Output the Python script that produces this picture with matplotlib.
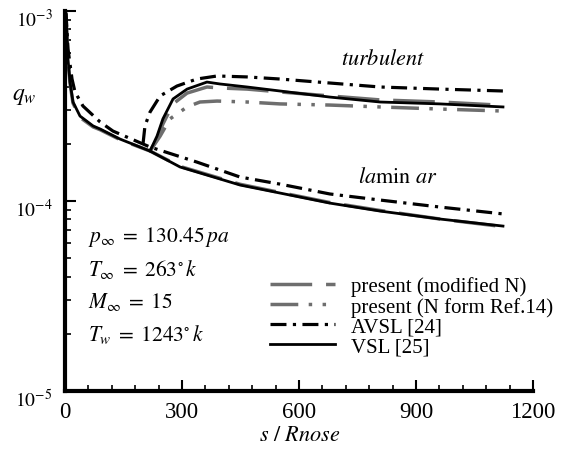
import numpy as np
import matplotlib
matplotlib.use("Agg")
import matplotlib.pyplot as plt
import matplotlib.transforms as mtransforms
from matplotlib.ticker import FixedLocator, LogLocator, NullFormatter

plt.rcParams['font.family'] = ['Liberation Serif', 'DejaVu Serif']
plt.rcParams['mathtext.fontset'] = 'stix'

# ---------------- data (s/Rnose, log10 q_w) ----------------
vsl_lam_s = [0, 2.6, 7.7, 12.8, 20.5, 38.5, 72, 90, 141, 218, 295, 449, 551, 679, 808, 962, 1123]
vsl_lam_logq = [-3.0, -3.016, -3.253, -3.374, -3.479, -3.553, -3.605, -3.621, -3.674, -3.737,
                -3.821, -3.916, -3.958, -4.011, -4.053, -4.095, -4.132]
vsl_turb_s = [218, 236, 251, 277, 313, 364, 397, 467, 551, 679, 808, 962, 1123]
vsl_turb_logq = [-3.737, -3.658, -3.568, -3.463, -3.411, -3.374, -3.384, -3.400, -3.421,
                 -3.453, -3.479, -3.489, -3.505]

pres_lam_s = [0, 2.6, 7.7, 12.8, 20.5, 38.5, 72, 90, 141, 218, 295, 449, 551, 679, 808, 962, 1123]
pres_lam_logq = [-3.0, -3.02, -3.26, -3.38, -3.485, -3.56, -3.61, -3.625, -3.677, -3.737,
                 -3.818, -3.912, -3.955, -4.008, -4.050, -4.095, -4.135]
pres_turb_s = [218, 236, 251, 277, 313, 364, 397, 467, 551, 679, 808, 962, 1110]
pres_turb_logq = [-3.737, -3.674, -3.595, -3.489, -3.432, -3.400, -3.405, -3.411, -3.426,
                  -3.447, -3.468, -3.479, -3.495]

ref14_turb_s = [218, 244, 269, 313, 346, 390, 467, 551, 679, 808, 962, 1115]
ref14_turb_logq = [-3.737, -3.658, -3.568, -3.505, -3.479, -3.474, -3.479, -3.489, -3.495,
                   -3.505, -3.516, -3.526]

avsl_lam_s = [0, 2.6, 7.7, 18, 25.6, 46, 90, 123, 200, 218, 338, 449, 551, 679, 808, 962, 1123]
avsl_lam_logq = [-3.0, -3.016, -3.2, -3.358, -3.426, -3.5, -3.584, -3.632, -3.7, -3.716,
                 -3.795, -3.874, -3.911, -3.963, -3.995, -4.032, -4.068]
avsl_turb_s = [200, 205, 218, 244, 287, 338, 390, 467, 551, 679, 808, 962, 1123]
avsl_turb_logq = [-3.7, -3.605, -3.532, -3.447, -3.395, -3.358, -3.342, -3.347, -3.358,
                  -3.379, -3.400, -3.411, -3.421]

x_ticks = [0, 300, 600, 900, 1200]
x_ticklabels = ['0', '300', '600', '900', '1200']
y_ticks = [1e-5, 1e-4, 1e-3]
y_ticklabels = [r'$10^{-5}$', r'$10^{-4}$', r'$10^{-3}$']
legend_labels = ['present (modified N)', 'present (N form Ref.14)', 'AVSL [24]', 'VSL [25]']
param_texts = [r'$p_{\infty}\;=\;130.45\,pa$', r'$T_{\infty}\;=\;263^{\circ}\,k$',
               r'$M_{\infty}\;=\;15$', r'$T_{w}\;=\;1243^{\circ}\,k$']

def q(v):
    return 10 ** np.asarray(v)

# ---------------- figure ----------------
fig = plt.figure(figsize=(5.61, 4.52), dpi=100)
ax = fig.add_axes([65 / 561, 1 - 392 / 452, 468 / 561, 380 / 452])

gray = '#6e6e6e'
lw_gray = 2.5
dash_pres = (12, 4)
dash_ref = (8, 3, 1, 3, 1, 3)
dash_avsl = (5, 2, 1, 2)

l1, = ax.plot(pres_lam_s, q(pres_lam_logq), color=gray, lw=lw_gray, dashes=dash_pres)
ax.plot(pres_turb_s, q(pres_turb_logq), color=gray, lw=lw_gray, dashes=dash_pres)
l2, = ax.plot(ref14_turb_s, q(ref14_turb_logq), color=gray, lw=lw_gray, dashes=dash_ref)
l4, = ax.plot(vsl_lam_s, q(vsl_lam_logq), color='black', lw=2.0)
ax.plot(vsl_turb_s, q(vsl_turb_logq), color='black', lw=2.0)
l3, = ax.plot(avsl_lam_s, q(avsl_lam_logq), color='black', lw=2.3, dashes=dash_avsl)
ax.plot(avsl_turb_s, q(avsl_turb_logq), color='black', lw=2.3, dashes=dash_avsl)

ax.set_yscale('log')
ax.set_xlim(0, 1200)
ax.set_ylim(1e-5, 1e-3)

for sp in ['top', 'right']:
    ax.spines[sp].set_visible(False)
for sp in ['left', 'bottom']:
    ax.spines[sp].set_linewidth(3)

ax.xaxis.set_major_locator(FixedLocator(x_ticks))
ax.set_xticklabels(x_ticklabels)
ax.xaxis.set_minor_locator(FixedLocator(np.arange(0, 1201, 60)))
ax.yaxis.set_major_locator(FixedLocator(y_ticks))
ax.set_yticklabels(y_ticklabels)
ax.yaxis.set_minor_locator(LogLocator(base=10, subs=np.arange(2, 10)))
ax.yaxis.set_minor_formatter(NullFormatter())

ax.tick_params(axis='both', which='major', direction='in', length=8, width=1.5,
               colors='black')
ax.tick_params(axis='x', which='major', labelsize=16.5, pad=7)
ax.tick_params(axis='y', which='major', labelsize=14, pad=9)
ax.tick_params(axis='both', which='minor', direction='in', length=4, width=1.2)

offset = mtransforms.ScaledTranslation(0, -6 / 100, fig.dpi_scale_trans)
for lab in ax.get_yticklabels():
    lab.set_transform(lab.get_transform() + offset)

fig.text(24 / 561, 1 - 97 / 452, r'$q_{w}$', fontsize=17, ha='center', va='center')
fig.text(300 / 561, 1 - 437 / 452, r'$s\ /\ Rnose$', fontsize=16, ha='center', va='center')

fig.text(383 / 561, 1 - 60 / 452, r'$turbulent$', fontsize=16, ha='center', va='center')
fig.text(398 / 561, 1 - 178 / 452, r'$la\mathrm{min}\ ar$', fontsize=16, ha='center', va='center')

for i, t in enumerate(param_texts):
    fig.text(88 / 561, 1 - (237 + i * 32.5) / 452, t, fontsize=15.5, ha='left', va='center')

leg = ax.legend([l1, l2, l3, l4], legend_labels, loc='upper left',
                bbox_to_anchor=((262 - 65) / 468, (392 - 269) / 380),
                frameon=False, fontsize=15, handlelength=3.1, handletextpad=0.75,
                labelspacing=0.02, borderaxespad=0)

fig.savefig('out.png', dpi=100)
